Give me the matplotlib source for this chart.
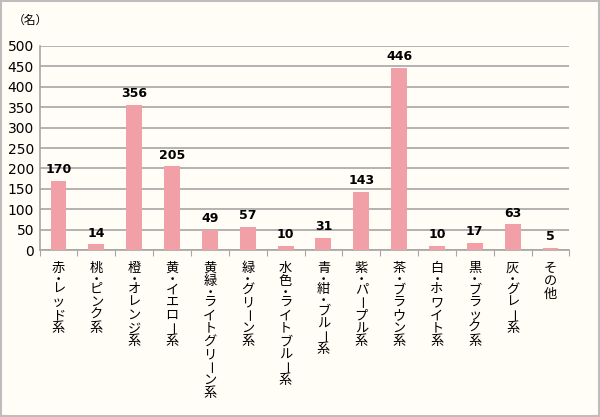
import matplotlib
matplotlib.use("Agg")
import matplotlib.pyplot as plt
from matplotlib.transforms import offset_copy, blended_transform_factory

plt.rcParams['font.family'] = ['Noto Sans CJK JP', 'DejaVu Sans']

categories = ['赤・レッド系', '桃・ピンク系', '橙・オレンジ系', '黄・イエロー系',
              '黄緑・ライトグリーン系', '緑・グリーン系', '水色・ライトブルー系',
              '青・紺・ブルー系', '紫・パープル系', '茶・ブラウン系', '白・ホワイト系',
              '黒・ブラック系', '灰・グレー系', 'その他']
counts = [170, 14, 356, 205, 49, 57, 10, 31, 143, 446, 10, 17, 63, 5]
yticks = list(range(0, 501, 50))

bg = '#fffdf6'
bar_color = '#f2a0a7'

fig = plt.figure(figsize=(6.0, 4.17), dpi=100, facecolor=bg)
ax = fig.add_axes([0.066, 0.4, 0.883, 0.49])
ax.set_facecolor(bg)

x = list(range(len(categories)))
ax.bar(x, counts, width=0.42, color=bar_color, zorder=3)
for xi, v in zip(x, counts):
    ax.text(xi, v + 12, str(v), ha='center', va='bottom', fontsize=9,
            fontweight='bold', family=['DejaVu Sans'])

ax.set_xlim(-0.5, len(categories) - 0.5)
ax.set_ylim(0, 500)
ax.set_yticks(yticks)
ax.set_yticklabels([str(t) for t in yticks], fontsize=10, family=['DejaVu Sans'])
ax.tick_params(axis='y', length=0, pad=4)
ax.yaxis.grid(True, color='#a6a6a6', linewidth=1.2, zorder=0)

# ticks between categories
ax.set_xticks([i - 0.5 for i in range(len(categories) + 1)])
ax.set_xticklabels([])
ax.tick_params(axis='x', length=4, color='#a6a6a6', direction='out')

for s in ['top', 'right']:
    ax.spines[s].set_visible(False)
for s in ['left', 'bottom']:
    ax.spines[s].set_color('#a6a6a6')
    ax.spines[s].set_linewidth(1.2)

# vertical category labels, one character at a time (pixel advances)
fs = 9.5
em = fs * 100 / 72
trans = blended_transform_factory(ax.transData, ax.transAxes)
for xi, label in zip(x, categories):
    pos = 12.0
    for ch in label:
        adv = 8.0 if ch == '・' else 13.0
        cy = pos + adv / 2
        pos += adv
        if ch == 'ー':
            # long vowel mark turns upright in vertical writing
            t = offset_copy(trans, fig=fig, x=-0.38 * em * 72 / 100,
                            y=-cy * 72 / 100, units='points')
            ax.text(xi, 0, ch, transform=t, ha='center', va='baseline',
                    rotation=-90, rotation_mode='anchor', fontsize=fs)
        else:
            t = offset_copy(trans, fig=fig, x=0, y=-cy * 72 / 100, units='points')
            ax.text(xi, 0, ch, transform=t, ha='center', va='center',
                    fontsize=fs)

fig.text(0.022, 0.952, '（名）', fontsize=8.5, ha='left', va='center')

# outer border
fig.patches.append(plt.Rectangle((0.002, 0.002), 0.996, 0.996, transform=fig.transFigure,
                                 fill=False, edgecolor='#bdbdbd', linewidth=1.5))

fig.savefig('out.png', dpi=100, facecolor=bg)
